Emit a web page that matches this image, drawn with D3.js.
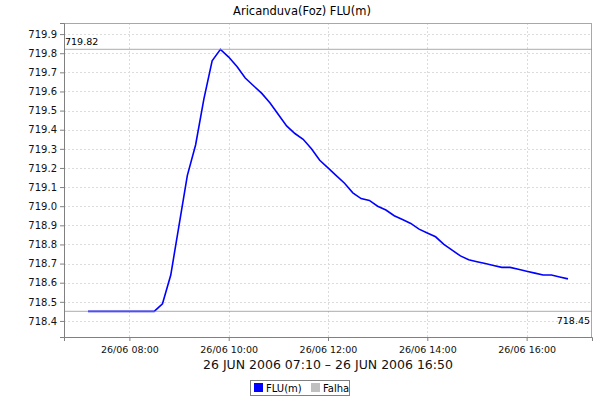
<!DOCTYPE html>
<html><head><meta charset="utf-8">
<script src="https://cdn.jsdelivr.net/npm/d3@7"></script>
<style>body{margin:0;background:#fff;} svg{display:block;font-family:"DejaVu Sans",sans-serif;}</style>
</head><body><svg id="c" width="600" height="400"></svg>
<script>
const title = "Aricanduva(Foz) FLU(m)";
const xLabel = "26 JUN 2006 07:10 \u2013 26 JUN 2006 16:50";
const startTime = "2006-06-26T07:10:00";
const stepMinutes = 10;
const fluValues = [718.45,718.45,718.45,718.45,718.45,718.45,718.45,718.45,718.45,
  718.49,718.64,718.90,719.16,719.32,719.56,719.76,719.82,719.78,719.73,719.67,
  719.63,719.59,719.54,719.48,719.42,719.38,719.35,719.30,719.24,719.20,719.16,
  719.12,719.07,719.04,719.03,719.00,718.98,718.95,718.93,718.91,718.88,718.86,
  718.84,718.80,718.77,718.74,718.72,718.71,718.70,718.69,718.68,718.68,718.67,
  718.66,718.65,718.64,718.64,718.63,718.62];
const yTicks = [718.4,718.5,718.6,718.7,718.8,718.9,719.0,719.1,719.2,719.3,719.4,719.5,719.6,719.7,719.8,719.9];
const xTickLabels = ["26/06 08:00","26/06 10:00","26/06 12:00","26/06 14:00","26/06 16:00"];
const xTickTimes = ["2006-06-26T08:00:00","2006-06-26T10:00:00","2006-06-26T12:00:00","2006-06-26T14:00:00","2006-06-26T16:00:00"];
const maxMarker = 719.82, minMarker = 718.45;
const legendNames = ["FLU(m)","Falha"];
const legendColors = ["#0000ff","#c0c0c0"];

const t0 = new Date(startTime);
const data = fluValues.map((v,i)=>({t:new Date(t0.getTime()+i*stepMinutes*60000), v}));
const L=64,R=592,T=23,B=337;
const tMin = data[0].t, tMax = data[data.length-1].t;
const pad = 29*60000;
const x = d3.scaleTime().domain([new Date(tMin-pad), new Date(+tMax+pad)]).range([L,R]);
const y = d3.scaleLinear().domain([718.316,719.958]).range([B,T]);
const svg = d3.select("#c");

svg.append("text").attr("x",302).attr("y",15).attr("text-anchor","middle").attr("font-size",11.5).attr("fill","#000").text(title);

const g = svg.append("g");
g.selectAll("line.gy").data(yTicks).join("line").attr("x1",L).attr("x2",R)
  .attr("y1",d=>Math.round(y(d))+0.5).attr("y2",d=>Math.round(y(d))+0.5)
  .attr("stroke","#dcdcdc").attr("stroke-dasharray","2,2");
const xt = xTickTimes.map(s=>new Date(s));
g.selectAll("line.gx").data(xt).join("line").attr("y1",T).attr("y2",B)
  .attr("x1",d=>Math.round(x(d))+0.5).attr("x2",d=>Math.round(x(d))+0.5)
  .attr("stroke","#dcdcdc").attr("stroke-dasharray","2,2");

svg.append("rect").attr("x",L+0.5).attr("y",T+0.5).attr("width",R-L-1).attr("height",B-T).attr("fill","none").attr("stroke","#a8a8a8");

const line = d3.line().x(d=>x(d.t)).y(d=>y(d.v));
svg.append("path").datum(data).attr("d",line).attr("fill","none").attr("stroke","#0000ff").attr("stroke-width",1.6);

[maxMarker,minMarker].forEach(m=>{
  svg.append("line").attr("x1",L).attr("x2",R).attr("y1",y(m)).attr("y2",y(m))
    .attr("stroke","#909090").attr("stroke-opacity",0.6).attr("stroke-width",1.2);
});
svg.append("text").attr("x",L+1).attr("y",y(maxMarker)-4).attr("font-size",9.5).attr("fill","#000").text(maxMarker.toFixed(2));
svg.append("text").attr("x",R-2).attr("y",y(minMarker)+13).attr("text-anchor","end").attr("font-size",9.5).attr("fill","#000").text(minMarker.toFixed(2));

const ya = d3.axisLeft(y).tickValues(yTicks).tickFormat(d3.format(".1f")).tickSize(4).tickPadding(3);
const yg = svg.append("g").attr("transform",`translate(${L},0)`).call(ya);
yg.select(".domain").attr("stroke","#808080");
yg.selectAll(".tick line").attr("stroke","#808080");
yg.selectAll("text").attr("font-size",10).attr("font-family","DejaVu Sans").attr("fill","#111");

const xa = d3.axisBottom(x).tickValues(xt).tickFormat((d,i)=>xTickLabels[i]).tickSize(4).tickPadding(5);
const xg = svg.append("g").attr("transform",`translate(0,${B})`).call(xa);
xg.select(".domain").attr("stroke","#808080");
xg.selectAll(".tick line").attr("stroke","#808080");
xg.selectAll("text").attr("font-size",9.5).attr("font-family","DejaVu Sans").attr("fill","#111");

svg.append("text").attr("x",(L+R)/2).attr("y",369).attr("text-anchor","middle").attr("font-size",12.5).attr("fill","#111").text(xLabel);

const lg = svg.append("g");
lg.append("rect").attr("x",250.5).attr("y",380.5).attr("width",99).attr("height",15).attr("fill","#fff").attr("stroke","#808080");
const lx = [254,311];
legendNames.forEach((n,i)=>{
  lg.append("rect").attr("x",lx[i]).attr("y",383).attr("width",9).attr("height",9).attr("fill",legendColors[i]);
  lg.append("text").attr("x",lx[i]+12).attr("y",392).attr("font-size",10).attr("fill","#000").text(n);
});
</script></body></html>
